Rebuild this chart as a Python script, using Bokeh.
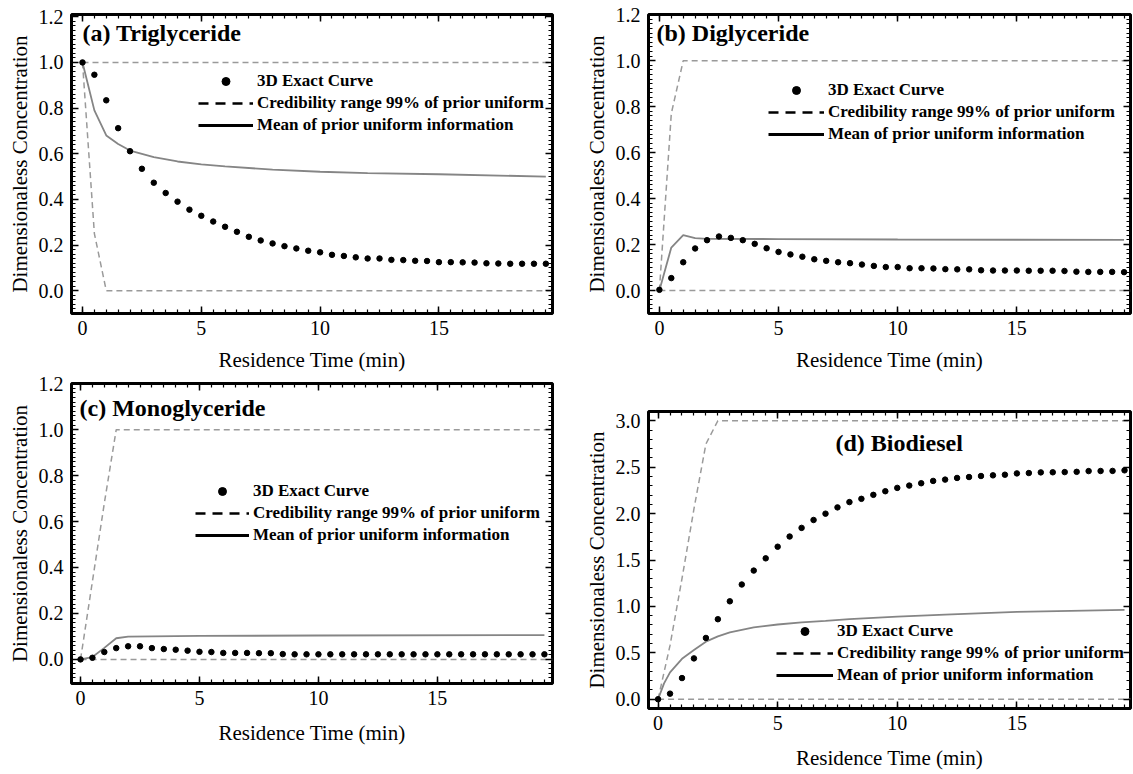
from bokeh.plotting import figure
from bokeh.models import (Range1d, LinearAxis, SingleIntervalTicker, Legend, LegendItem,
                          Label, CustomJSTickFormatter, NumeralTickFormatter, Spacer)
from bokeh.layouts import column, row
from bokeh.embed import file_html
from bokeh.resources import INLINE

# ---------------- data ----------------
time = [0.0, 0.5, 1.0, 1.5, 2.0, 2.5, 3.0, 3.5, 4.0, 4.5, 5.0, 5.5, 6.0, 6.5, 7.0, 7.5,
        8.0, 8.5, 9.0, 9.5, 10.0, 10.5, 11.0, 11.5, 12.0, 12.5, 13.0, 13.5, 14.0, 14.5,
        15.0, 15.5, 16.0, 16.5, 17.0, 17.5, 18.0, 18.5, 19.0, 19.5]

tri_exact = [1.0, 0.946, 0.834, 0.712, 0.611, 0.534, 0.473, 0.428, 0.390, 0.355,
             0.328, 0.303, 0.280, 0.258, 0.236, 0.220, 0.207, 0.195, 0.185, 0.175,
             0.168, 0.157, 0.152, 0.146, 0.141, 0.141, 0.135, 0.134, 0.131, 0.130,
             0.125, 0.125, 0.124, 0.123, 0.120, 0.119, 0.118, 0.118, 0.118, 0.118]
di_exact = [0.003, 0.054, 0.123, 0.183, 0.219, 0.235, 0.229, 0.219, 0.203, 0.184,
            0.168, 0.157, 0.147, 0.136, 0.129, 0.123, 0.119, 0.113, 0.107, 0.102,
            0.102, 0.097, 0.097, 0.096, 0.093, 0.092, 0.092, 0.088, 0.087, 0.087,
            0.087, 0.086, 0.086, 0.086, 0.085, 0.082, 0.081, 0.081, 0.081, 0.080]
mono_exact = [0.0, 0.007, 0.032, 0.049, 0.057, 0.057, 0.049, 0.045, 0.042, 0.038,
              0.033, 0.032, 0.028, 0.028, 0.028, 0.027, 0.027, 0.023, 0.022, 0.022,
              0.022, 0.022, 0.022, 0.022, 0.022, 0.022, 0.022, 0.022, 0.022, 0.022,
              0.022, 0.022, 0.022, 0.022, 0.022, 0.022, 0.022, 0.022, 0.022, 0.022]
bio_exact = [0.0, 0.06, 0.228, 0.44, 0.66, 0.862, 1.055, 1.236, 1.386, 1.518,
             1.643, 1.753, 1.846, 1.931, 1.999, 2.067, 2.124, 2.159, 2.202, 2.241,
             2.277, 2.302, 2.327, 2.352, 2.366, 2.384, 2.394, 2.405, 2.412, 2.419,
             2.433, 2.437, 2.444, 2.445, 2.447, 2.450, 2.458, 2.459, 2.460, 2.466]

tri_mean_t = [0, 0.5, 1, 1.5, 2, 3, 4, 5, 6, 8, 10, 12, 15, 19.5]
tri_mean = [1.0, 0.79, 0.68, 0.643, 0.614, 0.585, 0.566, 0.553, 0.545, 0.530, 0.521, 0.515, 0.510, 0.500]
di_mean_t = [0, 0.5, 1.0, 1.5, 2, 5, 10, 19.5]
di_mean = [0.0, 0.187, 0.241, 0.228, 0.225, 0.224, 0.222, 0.220]
mono_mean_t = [0, 0.5, 1.0, 1.5, 2, 5, 10, 19.5]
mono_mean = [0.0, 0.01, 0.05, 0.092, 0.099, 0.102, 0.104, 0.106]
bio_mean_t = [0, 0.25, 0.5, 1.0, 1.5, 2.0, 2.5, 3, 4, 5, 6, 7, 8, 10, 12, 15, 19.5]
bio_mean = [0.0, 0.17, 0.29, 0.435, 0.53, 0.62, 0.677, 0.72, 0.773, 0.805, 0.827, 0.844,
            0.862, 0.89, 0.912, 0.94, 0.962]

tri_up_t = [0, 20]
tri_up = [1.0, 1.0]
tri_lo_t = [0, 0.5, 1.0, 20]
tri_lo = [1.0, 0.25, 0.0, 0.0]
di_up_t = [0, 0.5, 1.0, 20]
di_up = [0.0, 0.77, 1.0, 1.0]
di_lo_t = [0, 20]
di_lo = [0.0, 0.0]
mono_up_t = [0, 0.5, 1.0, 1.5, 20]
mono_up = [0.0, 0.34, 0.68, 1.0, 1.0]
mono_lo_t = [0, 20]
mono_lo = [0.0, 0.0]
bio_up_t = [0, 0.5, 1.0, 1.5, 2.0, 2.5, 20]
bio_up = [0.0, 0.58, 1.3, 2.05, 2.75, 3.0, 3.0]
bio_lo_t = [0, 20]
bio_lo = [0.0, 0.0]

titles = ["(a) Triglyceride", "(b) Diglyceride", "(c) Monoglyceride", "(d) Biodiesel"]
legend_labels = ["3D Exact Curve", "Credibility range 99% of prior uniform",
                 "Mean of prior uniform information"]
x_label = "Residence Time (min)"
y_label = "Dimensionaless Concentration"

SERIF = "Liberation Serif"
NAN = float("nan")


def style_axis(ax, show_labels, tick_interval, n_minor, fmt=None):
    ax.ticker = SingleIntervalTicker(interval=tick_interval, num_minor_ticks=n_minor)
    ax.axis_line_alpha = 0
    ax.major_tick_in = 7
    ax.major_tick_out = 0
    ax.minor_tick_in = 4
    ax.minor_tick_out = 0
    ax.major_tick_line_color = "black"
    ax.minor_tick_line_color = "black"
    ax.major_tick_line_width = 1.5
    ax.minor_tick_line_width = 1.2
    if show_labels:
        ax.major_label_text_font = SERIF
        ax.major_label_text_font_size = "20px"
        ax.major_label_text_color = "black"
        ax.axis_label_text_font = SERIF
        ax.axis_label_text_font_size = "21px"
        ax.axis_label_text_font_style = "normal"
        ax.axis_label_text_color = "black"
        if fmt is not None:
            ax.formatter = fmt
    else:
        ax.formatter = CustomJSTickFormatter(code="return ''")
        ax.major_label_text_font_size = "0px"
        ax.major_label_standoff = 0


def make_panel(t, exact, mt, mv, ut, uv, lt, lv, xr, yr, y_int, y_minor, title,
               title_xy, legend_xy, glyph_w, dims, xlab_standoff):
    w, h, bl, br, bt, bb = dims
    p = figure(width=w, height=h, x_range=Range1d(*xr), y_range=Range1d(*yr),
               output_backend="svg", toolbar_location=None,
               min_border_left=bl, min_border_right=br,
               min_border_top=bt, min_border_bottom=bb)
    p.grid.visible = False
    p.outline_line_color = "black"
    p.outline_line_width = 3
    p.background_fill_color = "white"
    p.border_fill_color = "white"

    xb = p.xaxis[0]
    style_axis(xb, True, 5, 10)
    xb.axis_label = x_label
    xb.major_label_standoff = 7
    xb.axis_label_standoff = xlab_standoff
    yl = p.yaxis[0]
    style_axis(yl, True, y_int, y_minor, NumeralTickFormatter(format="0.0"))
    yl.axis_label = y_label
    yl.major_label_standoff = 8
    yl.axis_label_standoff = 4

    xt = LinearAxis()
    style_axis(xt, False, 5, 10)
    p.add_layout(xt, "above")
    yr_ax = LinearAxis()
    style_axis(yr_ax, False, y_int, y_minor)
    p.add_layout(yr_ax, "right")

    # data
    p.line(ut, uv, line_color="#9a9a9a", line_width=1.5, line_dash="6 4")
    p.line(lt, lv, line_color="#9a9a9a", line_width=1.5, line_dash="6 4")
    p.line(mt, mv, line_color="#858585", line_width=1.8)
    p.scatter(t, exact, size=5.5, color="black")

    # legend keys (black, as in the original key); NaN sample is never drawn in the plot
    r_dot = p.scatter(x=[NAN], y=[NAN], marker="circle", color="black")
    r_dash = p.line(x=[NAN], y=[NAN], line_color="black", line_width=2.5, line_dash="10 7")
    r_solid = p.line(x=[NAN], y=[NAN], line_color="black", line_width=3)
    leg = Legend(items=[LegendItem(label=legend_labels[0], renderers=[r_dot]),
                        LegendItem(label=legend_labels[1], renderers=[r_dash]),
                        LegendItem(label=legend_labels[2], renderers=[r_solid])],
                 location=legend_xy, orientation="vertical",
                 padding=0, margin=0, spacing=2,
                 glyph_width=glyph_w, glyph_height=20, label_height=20,
                 label_standoff=4,
                 label_text_font=SERIF, label_text_font_style="bold",
                 label_text_font_size="17px", label_text_color="black",
                 border_line_alpha=0, background_fill_alpha=0)
    p.add_layout(leg)

    p.add_layout(Label(x=title_xy[0], y=title_xy[1], x_units="screen", y_units="screen",
                       text=title, text_font=SERIF, text_font_style="bold",
                       text_font_size="24px", text_color="black",
                       text_baseline="middle"))
    return p


pa = make_panel(time, tri_exact, tri_mean_t, tri_mean, tri_up_t, tri_up, tri_lo_t, tri_lo,
                (-0.463, 19.78), (-0.1, 1.21), 0.2, 10, titles[0],
                (11, 281), (127, 178), 55, (578, 374, 71, 26, 14, 61), 10)
pb = make_panel(time, di_exact, di_mean_t, di_mean, di_up_t, di_up, di_lo_t, di_lo,
                (-0.457, 19.77), (-0.1, 1.201), 0.2, 10, titles[1],
                (8, 281), (120, 169), 56, (555, 374, 70, 3, 14, 61), 10)
pc = make_panel(time, mono_exact, mono_mean_t, mono_mean, mono_up_t, mono_up, mono_lo_t, mono_lo,
                (-0.38, 19.84), (-0.105, 1.201), 0.2, 10, titles[2],
                (8, 276), (124, 138), 54, (578, 373, 71, 26, 9, 64), 13)
pd_ = make_panel(time, bio_exact, bio_mean_t, bio_mean, bio_up_t, bio_up, bio_lo_t, bio_lo,
                 (-0.40, 19.75), (-0.1, 3.1), 0.5, 5, titles[3],
                 (187, 266), (128, 23), 57, (555, 370, 70, 3, 9, 62), 13)

layout = column(row(pa, pb),
                row(column(pc), column(Spacer(width=555, height=28), pd_)))
open("out.html", "w").write(file_html(layout, INLINE))
